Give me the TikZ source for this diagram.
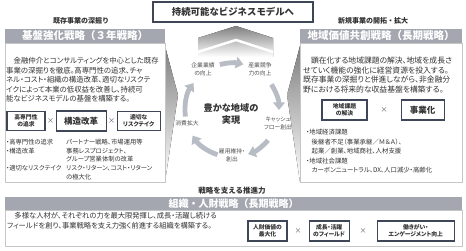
\documentclass[tikz,border=0pt]{standalone}
\usepackage{fontspec}
\setmainfont[RawFeature=+palt]{Noto Sans CJK JP}
\newfontfamily\fullw{Noto Sans CJK JP}
\usetikzlibrary{arrows.meta,positioning,calc}
\definecolor{hdrgray}{HTML}{A4A7AF}
\definecolor{keyline}{HTML}{3E4657}
\definecolor{panelline}{HTML}{C6C6C6}
\definecolor{cycgray}{HTML}{B8BCC5}
\definecolor{shade}{HTML}{E2E4E8}
\definecolor{txt}{HTML}{333333}
\begin{document}
\begin{tikzpicture}[x=1pt, y=-1pt,
    hdr/.style={fill=hdrgray, text=white, font=\fullw\fontsize{10.5}{12}\selectfont\bfseries,
                inner sep=0pt, minimum height=14pt},
    pnl/.style={draw=panelline, fill=white, inner sep=0pt},
    sub/.style={font=\fullw\fontsize{7}{8}\selectfont\bfseries, text=txt, inner sep=0pt},
    body/.style={font=\fontsize{7.8}{9.6}\selectfont, text=txt, align=left,
                 anchor=north west, inner sep=0pt},
    note/.style={font=\fontsize{6.3}{8.8}\selectfont, text=txt, align=left,
                 anchor=north west, inner sep=0pt},
    key/.style={draw=keyline, line width=1.1pt, fill=white, text=txt,
                font=\fontsize{5.8}{7}\selectfont\bfseries, align=center,
                inner sep=0pt, minimum height=19pt},
    bigkey/.style={key, font=\fontsize{8.5}{10}\selectfont\bfseries},
    times/.style={font=\fontsize{7}{8}\selectfont, text=txt!80, inner sep=0pt},
    cyc/.style={font=\fontsize{5.8}{8}\selectfont, text=txt!85, align=center, inner sep=0pt},
    cycarr/.style={draw=cycgray, line width=4.8pt, -{Triangle[length=7.5pt, width=11.5pt]}}
  ]
  \fill[white] (0,0) rectangle (466,251);
  \useasboundingbox (0,0) rectangle (466,251);

  \fill[shade] (165,46) -- (178,95) -- (165,182) -- cycle;
  \fill[shade] (300,46) -- (287,95) -- (300,182) -- cycle;
  \fill[shade] (198,38) -- (236,26) -- (273,38) -- (273,57) -- (198,57) -- cycle;
  \draw[white, line width=2.5pt] (198,52) -- (236,40) -- (273,52);

  \node[draw=keyline, line width=1.1pt, fill=white, minimum width=160pt, minimum height=20pt,
        font=\fullw\fontsize{9.4}{11}\selectfont\bfseries, text=txt] (goal) at (233,12) {持続可能なビジネスモデルへ};

  \node[pnl, anchor=north west, minimum width=160pt, minimum height=139pt] (lpnl) at (5,43) {};
  \node[hdr, minimum width=160pt, anchor=south] (lhdr) at (lpnl.north) {基盤強化戦略（３年戦略）};
  \node[sub, above=4pt of lhdr, xshift=-4pt] (lsub) {既存事業の深掘り};
  \node[body, font=\fontsize{7.4}{9.6}\selectfont] (ltxt) at (6,57) {　金融仲介とコンサルティングを中心とした既存\\
    事業の深掘りを徹底。高専門性の追求、チャ\\
    ネル・コスト・組織の構造改革、適切なリスクテ\\
    イクによって本業の低収益を改善し、持続可\\
    能なビジネスモデルの基盤を構築する。};
  \node[key, minimum width=38pt] (lk1) at (26,121) {高専門性\\の追求};
  \node[bigkey, minimum width=50pt, minimum height=20pt, right=10pt of lk1] (lk2) {構造改革};
  \node[key, minimum width=43pt, right=10pt of lk2] (lk3) {適切な\\リスクテイク};
  \node[times] (lx1) at ($(lk1.east)!0.5!(lk2.west)$) {×};
  \node[times] (lx2) at ($(lk2.east)!0.5!(lk3.west)$) {×};
  \node[note] (lnote) at (6,138) {\begin{tabular}{@{}p{60pt}@{}l@{}}
    ・高専門性の追求 & パートナー戦略、市場運用等\\
    ・構造改革 & 事務レスプロジェクト、\\
     & グループ営業体制の改革\\
    ・適切なリスクテイク & リスク・リターン、コスト・リターン\\
     & の極大化
  \end{tabular}};

  \node[pnl, anchor=north west, minimum width=162pt, minimum height=139pt] (rpnl) at (300,43) {};
  \node[hdr, minimum width=162pt, anchor=south] (rhdr) at (rpnl.north) {地域価値共創戦略（長期戦略）};
  \node[sub, above=4pt of rhdr, xshift=-8pt] (rsub) {新規事業の開拓・拡大};
  \node[body] (rtxt) at (303,57) {　顕在化する地域課題の解決、地域を成長さ\\
    せていく機能の強化に経営資源を投入する。\\
    既存事業の深掘りと併進しながら、非金融分\\
    野における将来的な収益基盤を構築する。};
  \node[key, minimum width=45pt, minimum height=20pt] (rk1) at (344.5,110) {地域課題\\の解決};
  \node[bigkey, minimum width=43pt, minimum height=20pt, right=33pt of rk1] (rk2) {事業化};
  \node[times] (rx1) at ($(rk1.east)!0.5!(rk2.west)$) {×};
  \node[note, font=\fontsize{6.4}{9.5}\selectfont] (rnote) at (306,129) {・地域経済課題\\
    \hspace*{5.5pt}後継者不足（事業承継／Ｍ＆Ａ）、\\
    \hspace*{5.5pt}起業／創業、地域商社、人材支援\\
    ・地域社会課題\\
    \hspace*{5.5pt}カーボンニュートラル、DX、人口減少・高齢化};

  \coordinate (hub) at (232,110);
  \node[font=\fontsize{9.2}{11.5}\selectfont\bfseries, text=txt, align=center, inner sep=0pt]
    (core) at (231,114) {豊かな地域の\\実現};
  \node[cyc] (c1) at (203,69) {企業業績\\の向上};
  \node[cyc] (c2) at (260,69) {産業競争\\力の向上};
  \node[cyc] (c3) at (278,123.5) {キャッシュ\\フロー創出};
  \node[cyc] (c4) at (232,155) {雇用維持・\\創出};
  \node[cyc] (c5) at (187,123) {消費拡大};
  \draw[cycarr] ([shift={(-105:47)}]hub) arc[start angle=-105, end angle=-76, radius=47];
  \draw[cycarr] ([shift={(-33:47)}]hub) arc[start angle=-33, end angle=0, radius=47];
  \draw[cycarr] ([shift={(40:47)}]hub) arc[start angle=40, end angle=70, radius=47];
  \draw[cycarr] ([shift={(108:47)}]hub) arc[start angle=108, end angle=147, radius=47];
  \draw[cycarr] ([shift={(-188:47)}]hub) arc[start angle=-188, end angle=-145, radius=47];

  \node[sub, font=\fullw\fontsize{7.5}{9}\selectfont\bfseries] (bsub) at (232,191) {戦略を支える推進力};
  \node[pnl, anchor=north west, minimum width=457pt, minimum height=36pt] (bpnl) at (5,210) {};
  \node[hdr, minimum width=457pt, minimum height=13pt, font=\fullw\fontsize{10}{12}\selectfont\bfseries,
        anchor=south] (bhdr) at (bpnl.north) {組織・人財戦略（長期戦略）};
  \node[body, font=\fontsize{7.3}{10.5}\selectfont] (btxt) at (7,212) {　多様な人材が、それぞれの力を最大限発揮し、成長・活躍し続ける\\
    フィールドを創り、事業戦略を支え力強く前進する組織を構築する。};
  \node[key, minimum width=39pt, minimum height=20pt] (bk1) at (267.5,231) {人財価値の\\最大化};
  \node[key, minimum width=40pt, minimum height=20pt, right=21pt of bk1] (bk2) {成長・活躍\\のフィールド};
  \node[key, minimum width=77pt, minimum height=20pt, right=27pt of bk2] (bk3) {働きがい・\\エンゲージメント向上};
  \node[times] (bx1) at ($(bk1.east)!0.5!(bk2.west)$) {×};
  \node[times] (bx2) at ($(bk2.east)!0.5!(bk3.west)$) {×};
\end{tikzpicture}
\end{document}
